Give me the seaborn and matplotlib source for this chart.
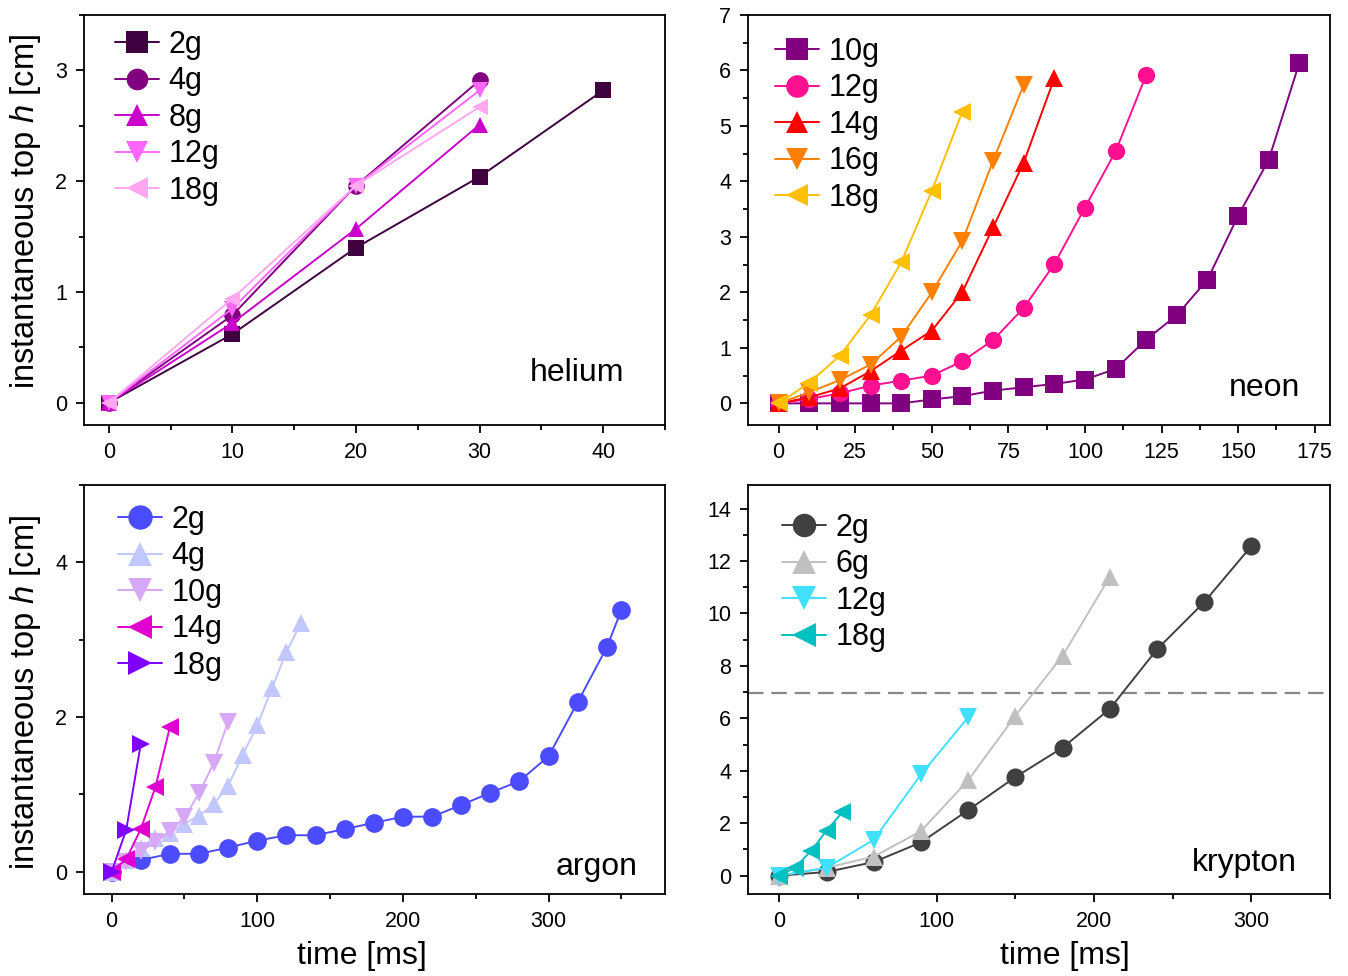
import numpy as np
import pandas as pd
import matplotlib
matplotlib.use("Agg")
import matplotlib.pyplot as plt
from matplotlib.ticker import MultipleLocator
import seaborn as sns

# ---------------- data ----------------
# helium (time in ms, h in cm)
he_labels = ["2g", "4g", "8g", "12g", "18g"]
he_t = [[0, 10, 20, 30, 40], [0, 10, 20, 30], [0, 10, 20, 30], [0, 10, 20, 30], [0, 10, 20, 30]]
he_h = [[0, 0.62, 1.40, 2.04, 2.82],
        [0, 0.79, 1.96, 2.91],
        [0, 0.72, 1.57, 2.51],
        [0, 0.85, 1.96, 2.82],
        [0, 0.94, 1.96, 2.67]]
he_colors = ["#3f0040", "#800080", "#cc00cc", "#ff66ff", "#ffa8f0"]
he_markers = ["s", "o", "^", "v", "<"]

# neon
ne_labels = ["10g", "12g", "14g", "16g", "18g"]
ne_t = [list(range(0, 180, 10)), list(range(0, 130, 10)), list(range(0, 100, 10)),
        list(range(0, 90, 10)), list(range(0, 70, 10))]
ne_h = [[0, 0, 0, 0, 0, 0.07, 0.13, 0.23, 0.29, 0.35, 0.43, 0.62, 1.15, 1.59, 2.23, 3.38, 4.39, 6.14],
        [0, 0.08, 0.18, 0.32, 0.41, 0.50, 0.76, 1.14, 1.72, 2.51, 3.53, 4.54, 5.92],
        [0, 0.11, 0.27, 0.58, 0.95, 1.31, 2.01, 3.17, 4.34, 5.86],
        [0, 0.20, 0.42, 0.70, 1.20, 2.00, 2.93, 4.37, 5.74],
        [0, 0.37, 0.86, 1.59, 2.54, 3.83, 5.26]]
ne_colors = ["#800080", "#ff1090", "#ff0000", "#ff8000", "#ffc000"]
ne_markers = ["s", "o", "^", "v", "<"]

# argon
ar_labels = ["2g", "4g", "10g", "14g", "18g"]
ar_t = [[0] + list(range(20, 360, 20)) + [350],
        list(range(0, 140, 10)),
        list(range(0, 90, 10)),
        [0, 10, 20, 30, 40],
        [0, 10, 20]]
ar_h = [[0, 0.15, 0.23, 0.23, 0.31, 0.40, 0.47, 0.47, 0.55, 0.63, 0.71, 0.71, 0.86, 1.02, 1.17, 1.49, 2.19, 2.90, 3.38],
        [0, 0.15, 0.31, 0.44, 0.50, 0.62, 0.72, 0.87, 1.11, 1.51, 1.89, 2.37, 2.84, 3.22],
        [0, 0.12, 0.26, 0.38, 0.52, 0.70, 1.01, 1.40, 1.94],
        [0, 0.16, 0.55, 1.09, 1.87],
        [0, 0.54, 1.65]]
ar_colors = ["#4b4bff", "#c0c8ff", "#d8a8f8", "#e000d0", "#8000ff"]
ar_markers = ["o", "^", "v", "<", ">"]

# krypton
kr_labels = ["2g", "6g", "12g", "18g"]
kr_t = [list(range(0, 330, 30)), list(range(0, 240, 30)), list(range(0, 150, 30)), [0, 10, 20, 30, 40]]
kr_h = [[0, 0.14, 0.52, 1.27, 2.50, 3.76, 4.88, 6.36, 8.63, 10.43, 12.57],
        [0, 0.30, 0.73, 1.70, 3.64, 6.10, 8.38, 11.40],
        [0, 0.30, 1.37, 3.86, 6.04],
        [0, 0.31, 0.94, 1.72, 2.42]]
kr_colors = ["#404040", "#c0c0c0", "#40e0ff", "#00c0c0"]
kr_markers = ["o", "^", "v", "<"]
kr_threshold = 6.95

gas_names = ["helium", "neon", "argon", "krypton"]

# ---------------- style ----------------
sns.set_style("ticks")
plt.rcParams["font.family"] = ["Liberation Sans", "DejaVu Sans"]
plt.rcParams["mathtext.fontset"] = "custom"
plt.rcParams["mathtext.it"] = "Liberation Sans:italic"
plt.rcParams["mathtext.rm"] = "Liberation Sans"
for k in ["text.color", "axes.labelcolor", "xtick.color", "ytick.color", "axes.edgecolor"]:
    plt.rcParams[k] = "black"

fig = plt.figure(figsize=(13.48, 9.76), dpi=100)
W, H = 1348, 976
def add_ax(x0, y0, x1, y1):
    return fig.add_axes([x0 / W, 1 - y1 / H, (x1 - x0) / W, (y1 - y0) / H])

ax_he = add_ax(84, 15, 665, 425)
ax_ne = add_ax(748, 15, 1330, 425)
ax_ar = add_ax(84, 485, 665, 894)
ax_kr = add_ax(748, 485, 1330, 894)

def draw(ax, ts, hs, labels, colors, markers, ms=11):
    for t, h, lab, c, m in zip(ts, hs, labels, colors, markers):
        df = pd.DataFrame({"t": t, "h": h})
        sns.lineplot(data=df, x="t", y="h", ax=ax, color=c, marker=m, markersize=ms,
                     markeredgecolor=c, markeredgewidth=0, linewidth=1.4, label=lab,
                     sort=False, estimator=None)

draw(ax_he, he_t, he_h, he_labels, he_colors, he_markers, ms=12)
draw(ax_ne, ne_t, ne_h, ne_labels, ne_colors, ne_markers, ms=12.5)
draw(ax_ar, ar_t, ar_h, ar_labels, ar_colors, ar_markers, ms=13.5)
draw(ax_kr, kr_t, kr_h, kr_labels, kr_colors, kr_markers, ms=13)
ax_kr.axhline(kr_threshold, color="#888888", linestyle=(0, (7, 3.5)), linewidth=1.6, zorder=0)

ax_he.set_xlim(-2, 45); ax_he.set_ylim(-0.2, 3.5)
ax_ne.set_xlim(-10, 180); ax_ne.set_ylim(-0.39, 7)
ax_ar.set_xlim(-19, 380); ax_ar.set_ylim(-0.29, 5)
ax_kr.set_xlim(-20, 350); ax_kr.set_ylim(-0.7, 14.9)

ax_he.xaxis.set_major_locator(MultipleLocator(10)); ax_he.xaxis.set_minor_locator(MultipleLocator(5))
ax_he.yaxis.set_major_locator(MultipleLocator(1)); ax_he.yaxis.set_minor_locator(MultipleLocator(0.5))
ax_ne.xaxis.set_major_locator(MultipleLocator(25)); ax_ne.xaxis.set_minor_locator(MultipleLocator(12.5))
ax_ne.yaxis.set_major_locator(MultipleLocator(1)); ax_ne.yaxis.set_minor_locator(MultipleLocator(0.5))
ax_ar.xaxis.set_major_locator(MultipleLocator(100)); ax_ar.xaxis.set_minor_locator(MultipleLocator(50))
ax_ar.yaxis.set_major_locator(MultipleLocator(2)); ax_ar.yaxis.set_minor_locator(MultipleLocator(1))
ax_kr.xaxis.set_major_locator(MultipleLocator(100)); ax_kr.xaxis.set_minor_locator(MultipleLocator(50))
ax_kr.yaxis.set_major_locator(MultipleLocator(2)); ax_kr.yaxis.set_minor_locator(MultipleLocator(1))

text_pos = {"helium": (0.93, 0.127), "neon": (0.948, 0.09), "argon": (0.953, 0.066), "krypton": (0.943, 0.076)}
# legend anchor: (px from left spine to handle line start, px from top spine to first row top)
leg_anchor = {"helium": (31, 15), "neon": (27, 22), "argon": (34, 20), "krypton": (34, 28)}
for ax, name in zip([ax_he, ax_ne, ax_ar, ax_kr], gas_names):
    for s in ax.spines.values():
        s.set_linewidth(1.3)
        s.set_color("black")
    ax.tick_params(which="major", direction="out", length=6, width=1.3, labelsize=15.5, pad=6, colors="black")
    ax.tick_params(which="minor", direction="out", length=3.5, width=1.3, colors="black")
    ax.set_xlabel(""); ax.set_ylabel("")
    x, y = text_pos[name]
    ax.text(x, y, name, transform=ax.transAxes, ha="right", va="center", fontsize=23)
    bb = ax.get_position()
    dx, dy = leg_anchor[name]
    ax.legend(loc="upper left", frameon=False, fontsize=22, markerscale=1.3,
              handlelength=1.45, handletextpad=0.3, labelspacing=0.21,
              borderaxespad=0, borderpad=0,
              bbox_to_anchor=(dx / (bb.width * W), 1 - dy / (bb.height * H)))

ylab = "instantaneous top $\\mathit{h}$ [cm]"
ax_he.set_ylabel(ylab, fontsize=23.5, labelpad=8.5)
ax_ar.set_ylabel(ylab, fontsize=23.5, labelpad=8.5)
ax_he.yaxis.label.set_y(0.522)
ax_ar.yaxis.label.set_y(0.494)
ax_ar.set_xlabel("time [ms]", fontsize=23, labelpad=7)
ax_kr.set_xlabel("time [ms]", fontsize=23, labelpad=7)
ax_ar.xaxis.label.set_x(0.478)
ax_kr.xaxis.label.set_x(0.545)

fig.savefig("out.png", dpi=100)
